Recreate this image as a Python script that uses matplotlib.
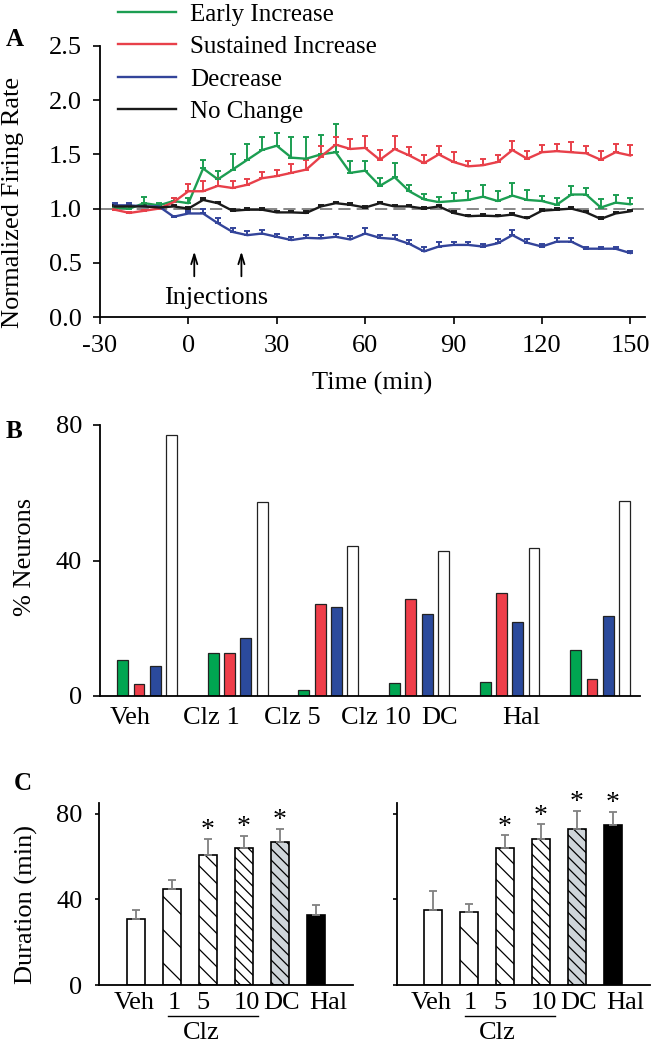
import numpy as np
import matplotlib.pyplot as plt
from matplotlib.lines import Line2D

plt.rcParams['font.family'] = ['Liberation Serif', 'DejaVu Serif']
plt.rcParams['hatch.linewidth'] = 0.9
plt.rcParams['axes.linewidth'] = 1.3
plt.rcParams['axes.unicode_minus'] = False

# ---------------- panel A data: normalized firing rate
time_min = [-25, -20, -15, -10, -5, 0, 5, 10, 15, 20, 25, 30, 35, 40, 45, 50, 55, 60,
            65, 70, 75, 80, 85, 90, 95, 100, 105, 110, 115, 120, 125, 130, 135, 140, 145, 150]
early = [1.01, 1.00, 1.05, 1.03, 1.07, 1.05, 1.37, 1.27, 1.36, 1.45, 1.54, 1.58, 1.47, 1.46,
         1.50, 1.52, 1.33, 1.35, 1.21, 1.29, 1.16, 1.085, 1.06, 1.07, 1.08, 1.11, 1.07, 1.12,
         1.08, 1.07, 1.035, 1.13, 1.13, 1.01, 1.055, 1.04]
early_err = [0.02, 0.02, 0.06, 0.02, 0.03, 0.05, 0.08, 0.08, 0.14, 0.15, 0.12, 0.12, 0.19, 0.20,
             0.18, 0.26, 0.11, 0.09, 0.07, 0.13, 0.06, 0.05, 0.05, 0.07, 0.08, 0.11, 0.09, 0.12,
             0.09, 0.05, 0.06, 0.08, 0.06, 0.08, 0.07, 0.06]
sustained = [0.99, 0.96, 0.98, 1.00, 1.06, 1.16, 1.16, 1.21, 1.19, 1.22, 1.28, 1.30, 1.33, 1.36,
             1.48, 1.59, 1.55, 1.56, 1.45, 1.55, 1.49, 1.42, 1.50, 1.43, 1.39, 1.40, 1.43, 1.54,
             1.46, 1.52, 1.53, 1.52, 1.51, 1.45, 1.52, 1.49]
sustained_err = [0.01, 0.01, 0.01, 0.01, 0.04, 0.07, 0.09, 0.07, 0.06, 0.05, 0.06, 0.06, 0.08,
                 0.09, 0.10, 0.07, 0.09, 0.11, 0.09, 0.12, 0.08, 0.07, 0.08, 0.09, 0.05, 0.055,
                 0.06, 0.08, 0.07, 0.07, 0.07, 0.09, 0.07, 0.08, 0.08, 0.10]
decrease = [1.03, 1.03, 1.02, 1.02, 0.925, 0.955, 0.955, 0.865, 0.785, 0.755, 0.77, 0.74, 0.71,
            0.73, 0.725, 0.74, 0.715, 0.77, 0.73, 0.72, 0.675, 0.605, 0.65, 0.665, 0.665, 0.65,
            0.68, 0.755, 0.685, 0.65, 0.695, 0.695, 0.63, 0.63, 0.63, 0.59]
decrease_err = [0.02, 0.02, 0.01, 0.01, 0.01, 0.02, 0.045, 0.045, 0.04, 0.035, 0.03, 0.03, 0.03,
                0.03, 0.03, 0.03, 0.03, 0.055, 0.03, 0.035, 0.035, 0.04, 0.04, 0.03, 0.03, 0.02,
                0.035, 0.045, 0.03, 0.02, 0.03, 0.03, 0.02, 0.02, 0.02, 0.02]
no_change = [1.02, 1.02, 1.02, 1.01, 1.02, 1.00, 1.08, 1.05, 0.98, 0.99, 0.99, 0.965, 0.965, 0.96,
             1.02, 1.05, 1.035, 1.01, 1.05, 1.02, 1.02, 1.00, 1.02, 0.96, 0.93, 0.935, 0.93,
             0.945, 0.91, 0.98, 0.99, 1.00, 0.965, 0.905, 0.955, 0.975]
no_change_err = [0.015] * 36
series_names = ['Early Increase', 'Sustained Increase', 'Decrease', 'No Change']

# ---------------- panel B data: % neurons per response type
groups_b = ['Veh', 'Clz 1', 'Clz 5', 'Clz 10', 'DC', 'Hal']
pct_early = [10.6, 12.6, 1.8, 3.7, 4.1, 13.5]
pct_sustained = [3.4, 12.6, 27.3, 28.6, 30.3, 5.1]
pct_decrease = [9.0, 17.2, 26.4, 24.3, 21.8, 23.6]
pct_nochange = [77.1, 57.4, 44.4, 42.8, 43.7, 57.6]

# ---------------- panel C data: duration
dur_labels = ['Veh', '1', '5', '10', 'DC', 'Hal']
dur_left = [30.9, 44.8, 60.7, 63.8, 66.8, 32.9]
dur_left_err = [3.9, 4.2, 7.6, 5.8, 6.1, 4.4]
dur_right = [35.1, 34.0, 63.8, 68.3, 73.0, 74.7]
dur_right_err = [8.9, 3.6, 6.1, 6.7, 8.3, 6.3]
sig_left = [False, False, True, True, True, False]
sig_right = [False, False, True, True, True, True]

c_green, c_red, c_blue, c_black = '#1c9e52', '#e8404a', '#33449a', '#1a1a1a'
W, H = 651.0, 1050.0
FS = 19

fig = plt.figure(figsize=(6.51, 10.5), dpi=100)

# ================= A
axA = fig.add_axes([100/W, 1-317/H, 545/W, 271/H])
series = [(early, early_err, c_green), (sustained, sustained_err, c_red),
          (decrease, decrease_err, c_blue), (no_change, no_change_err, c_black)]
for vals, errs, col in series:
    axA.errorbar(time_min, vals, yerr=[np.zeros(len(errs)), errs], color=col, lw=1.7,
                 elinewidth=1.4, capsize=2.5, capthick=1.4)
axA.axhline(1.0, color='#666666', lw=1.1, dashes=(8, 4), zorder=0)
axA.set_xlim(-30, 155)
axA.set_ylim(0, 2.5)
axA.set_xticks([-30, 0, 30, 60, 90, 120, 150])
axA.set_yticks([0, 0.5, 1.0, 1.5, 2.0, 2.5])
axA.yaxis.set_major_formatter('{x:.1f}')
axA.tick_params(direction='out', length=5, width=1.2, labelsize=FS, pad=8)
for s in ['top', 'right']:
    axA.spines[s].set_visible(False)
for tx in [2, 18]:
    axA.annotate('', xy=(tx, 0.63), xytext=(tx, 0.35),
                 arrowprops=dict(arrowstyle='->,head_length=0.7,head_width=0.22', lw=1.3))
axA.text(9.5, 0.175, 'Injections', ha='center', va='center', fontsize=FS)
handles = [Line2D([], [], color=c, lw=1.7) for c in [c_green, c_red, c_blue, c_black]]
fig.legend(handles, series_names, loc='upper left', bbox_to_anchor=(118/W, 1-3/H),
           frameon=False, fontsize=18, handlelength=2.3, handletextpad=0.6,
           labelspacing=0.4, borderpad=0, borderaxespad=0)
fig.text(13/W, 1-202/H, 'Normalized Firing Rate', rotation=90, ha='center', va='center', fontsize=FS)
fig.text(372/W, 1-383/H, 'Time (min)', ha='center', va='center', fontsize=FS)
fig.text(15/W, 1-39/H, 'A', fontweight='bold', fontsize=18, ha='center', va='center')

# ================= B
axB = fig.add_axes([100/W, 1-696/H, 540/W, 271/H])
xb = np.arange(len(groups_b))
bw = 0.12
for off, vals, col in [(-0.27, pct_early, '#00a651'), (-0.09, pct_sustained, '#ef3e4a'),
                       (0.09, pct_decrease, '#2b4a9c'), (0.27, pct_nochange, 'white')]:
    axB.bar(xb + off, vals, bw, color=col, edgecolor='#222222', linewidth=0.9)
axB.set_xlim(-0.52, 5.44)
axB.set_ylim(0, 80)
axB.set_yticks([0, 40, 80])
axB.set_xticks([-0.19, 0.71, 1.60, 2.53, 3.23, 4.13])
axB.set_xticklabels(groups_b)
axB.tick_params(axis='y', direction='out', length=5, width=1.2, labelsize=FS, pad=8)
axB.tick_params(axis='x', length=0, labelsize=FS, pad=8)
for s in ['top', 'right']:
    axB.spines[s].set_visible(False)
fig.text(25/W, 1-557/H, '% Neurons', rotation=90, ha='center', va='center', fontsize=FS)
fig.text(14/W, 1-432/H, 'B', fontweight='bold', fontsize=18, ha='center', va='center')

# ================= C
hatches = ['', '\\', '\\\\', '\\\\\\', '\\\\\\', '']
faces = ['white', 'white', 'white', 'white', '#cfd5da', 'black']
label_x = [-0.06, 1.05, 1.85, 3.08, 4.05, 5.33]


def duration_panel(ax, vals, errs, sig, xmin, show_labels):
    xc = np.arange(len(vals))
    for i in range(len(vals)):
        ax.bar(xc[i], vals[i], 0.5, color=faces[i], edgecolor='black', linewidth=1.2,
               hatch=hatches[i])
    ax.errorbar(xc, vals, yerr=[np.zeros(len(errs)), errs], fmt='none', ecolor='#808080',
                elinewidth=1.3, capsize=3, capthick=1.3)
    for i in range(len(vals)):
        if sig[i]:
            ax.text(xc[i], vals[i] + errs[i] + 3.8, '*', ha='center', va='center',
                    fontsize=20, clip_on=False)
    ax.set_xlim(xmin, 6.03)
    ax.set_ylim(0, 85)
    ax.set_yticks([0, 40, 80])
    if not show_labels:
        ax.set_yticklabels([])
    ax.set_xticks(label_x)
    ax.set_xticklabels(dur_labels)
    ax.tick_params(axis='y', direction='out', length=3, width=1.2, labelsize=FS, pad=9)
    ax.tick_params(axis='x', length=0, labelsize=FS, pad=5)
    for s in ['top', 'right']:
        ax.spines[s].set_visible(False)
    tr = ax.get_xaxis_transform()
    ax.add_line(Line2D([0.9, 3.38], [-0.17, -0.17], transform=tr, color='black', lw=1.0,
                       clip_on=False))
    ax.text(1.8, -0.264, 'Clz', transform=tr, ha='center', va='center', fontsize=FS)


axC1 = fig.add_axes([99/W, 1-985/H, 254/W, 182/H])
duration_panel(axC1, dur_left, dur_left_err, sig_left, -1.03, True)
axC2 = fig.add_axes([397/W, 1-985/H, 253/W, 182/H])
duration_panel(axC2, dur_right, dur_right_err, sig_right, -1.0, False)
fig.text(26/W, 1-905/H, 'Duration (min)', rotation=90, ha='center', va='center', fontsize=FS)
fig.text(23/W, 1-783/H, 'C', fontweight='bold', fontsize=18, ha='center', va='center')

fig.savefig('out.png', dpi=100)
